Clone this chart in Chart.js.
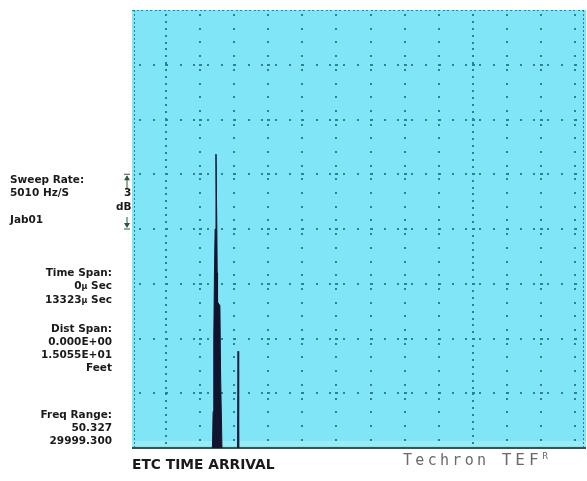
<!DOCTYPE html>
<html lang="en">
<head>
  <meta charset="UTF-8">
  <title>ETC Time Arrival</title>
  <script src="https://cdn.jsdelivr.net/npm/chart.js"></script>
  <style>
    body {
      margin: 0;
      background: white;
    }
    #wrap {
      position: relative;
      width: 587px;
      height: 481px;
      font-family: "DejaVu Sans", sans-serif;
      font-weight: 700;
      color: #1a1a1a;
    }
    #wrap canvas {
      position: absolute;
      left: 0;
      top: 0;
    }
    .lbl {
      position: absolute;
      font-size: 10.5px;
      line-height: 13px;
      white-space: nowrap;
    }
    .right {
      text-align: right;
      right: 475px;
    }
    #title {
      position: absolute;
      left: 132px;
      top: 456px;
      font-size: 13.8px;
    }
    #brand {
      position: absolute;
      left: 403px;
      top: 450px;
      font-family: "DejaVu Sans Mono", monospace;
      font-weight: 400;
      font-size: 15px;
      letter-spacing: 3.3px;
      color: #6a6a6a;
    }
    #brand .tef {
      font-size: 16px;
      letter-spacing: 4px;
    }
    #brand sup {
      font-size: 9px;
    }
  </style>
</head>
<body>
<div id="wrap">
  <canvas id="etcChart" width="587" height="481"></canvas>
  <div class="lbl" style="left:10px; top:173px">Sweep Rate:<br>5010 Hz/S</div>
  <div class="lbl" style="left:10px; top:213px">Jab01</div>
  <div class="lbl" style="left:124px; top:186px">3</div>
  <div class="lbl" style="left:116px; top:200px">dB</div>
  <div class="lbl right" style="top:266px">Time Span:<br>0<span style="font-size:8px">µ</span> Sec<br>13323<span style="font-size:8px">µ</span> Sec</div>
  <div class="lbl right" style="top:322px">Dist Span:<br>0.000E+00<br>1.5055E+01<br>Feet</div>
  <div class="lbl right" style="top:408px">Freq Range:<br>50.327<br>29999.300</div>
  <div id="title">ETC TIME ARRIVAL</div>
  <div id="brand">Techron <span class="tef">TEF</span><sup>R</sup></div>
</div>
<script>
  // Zeitachse in µs, Pegel in dB (relativ, 3 dB pro Teilung)
  const xMaxUs = 13323;
  const yMaxDb = 24;
  const xGridUs = [1000, 2000, 3000, 4000, 5000, 6000, 7000, 8000, 9000, 10000, 11000, 12000, 13000];
  const xGridDense = [1000, 10000];
  const yGridDb = [3, 6, 9, 12, 15, 18, 21];

  // direkter Schall
  const peak1Time = [2360, 2380, 2400, 2420, 2440, 2465, 2490, 2500, 2510, 2580, 2600, 2640];
  const peak1Level = [0, 2, 6, 9.6, 12, 16.1, 12, 9.6, 8, 7.8, 4, 0];
  // Reflexion
  const peak2Time = [3095, 3112, 3130];
  const peak2Level = [0, 5.3, 0];

  const toPoints = (xs, ys) => xs.map((x, i) => ({ x: x, y: ys[i] }));

  const dotGrid = {
    id: 'dotGrid',
    beforeDatasetsDraw(chart) {
      const { ctx, chartArea: a, scales: { x, y } } = chart;
      ctx.save();
      ctx.fillStyle = '#2f7f9c';
      // vertikale Linien
      xGridUs.forEach(v => {
        const px = Math.round(x.getPixelForValue(v));
        const step = xGridDense.includes(v) ? 6.9 : 13.7;
        for (let py = a.top + 4; py < a.bottom - 2; py += step) {
          ctx.fillRect(px - 1, Math.round(py), 2, 2);
        }
      });
      // horizontale Linien
      yGridDb.forEach(v => {
        const py = Math.round(y.getPixelForValue(v));
        for (let px = a.left + 7; px < a.right - 2; px += 13.6) {
          ctx.fillRect(Math.round(px), py - 1, 2, 2);
        }
        xGridUs.forEach(g => ctx.fillRect(Math.round(x.getPixelForValue(g)) - 1, py - 1, 3, 2));
      });
      // Rand oben und links
      for (let px = a.left; px < a.right; px += 4.5) {
        ctx.fillRect(Math.round(px), a.top, 2, 1);
      }
      for (let py = a.top; py < a.bottom; py += 4) {
        ctx.fillRect(a.left + 2, Math.round(py), 1, 2);
        ctx.fillRect(a.right - 3, Math.round(py), 1, 2);
      }
      // Grundlinie
      ctx.fillStyle = '#2e5a4e';
      ctx.fillRect(a.left, a.bottom - 1, a.right - a.left, 2);

      // 3 dB Markierung
      const mx = a.left - 5;
      const yTop = y.getPixelForValue(15);
      const yBot = y.getPixelForValue(12);
      ctx.strokeStyle = '#2c5a3c';
      ctx.fillStyle = '#2c5a3c';
      ctx.lineWidth = 1;
      ctx.beginPath();
      ctx.moveTo(mx - 3, yTop); ctx.lineTo(mx + 3, yTop);
      ctx.moveTo(mx, yTop + 2); ctx.lineTo(mx, yTop + 15);
      ctx.moveTo(mx - 3, yBot); ctx.lineTo(mx + 3, yBot);
      ctx.moveTo(mx, yBot - 2); ctx.lineTo(mx, yBot - 12);
      ctx.stroke();
      ctx.beginPath();
      ctx.moveTo(mx, yTop + 1); ctx.lineTo(mx - 3, yTop + 6); ctx.lineTo(mx + 3, yTop + 6);
      ctx.moveTo(mx, yBot - 1); ctx.lineTo(mx - 3, yBot - 6); ctx.lineTo(mx + 3, yBot - 6);
      ctx.fill();
      ctx.restore();
    }
  };

  const plotBg = {
    id: 'plotBg',
    beforeDraw(chart) {
      const { ctx, chartArea: a } = chart;
      ctx.save();
      ctx.fillStyle = '#80e6f7';
      ctx.fillRect(a.left, a.top, a.right - a.left, a.bottom - a.top);
      ctx.fillStyle = '#96ecf8';
      ctx.fillRect(a.left, a.bottom - 7, a.right - a.left, 5);
      ctx.restore();
    }
  };

  new Chart(document.getElementById('etcChart'), {
    type: 'line',
    data: {
      datasets: [{
        label: 'Direktschall',
        data: toPoints(peak1Time, peak1Level),
        borderColor: '#12142e',
        backgroundColor: '#12142e',
        borderWidth: 1,
        pointRadius: 0,
        tension: 0,
        fill: 'origin'
      }, {
        label: 'Reflexion',
        data: toPoints(peak2Time, peak2Level),
        borderColor: '#1a2040',
        backgroundColor: '#1a2040',
        borderWidth: 1,
        pointRadius: 0,
        tension: 0,
        fill: 'origin'
      }]
    },
    options: {
      responsive: false,
      animation: false,
      layout: { padding: { left: 132, right: 1, top: 10, bottom: 33 } },
      plugins: { legend: { display: false }, tooltip: { enabled: false } },
      scales: {
        x: { type: 'linear', min: 0, max: xMaxUs, display: false },
        y: { type: 'linear', min: 0, max: yMaxDb, display: false }
      }
    },
    plugins: [plotBg, dotGrid]
  });
</script>
</body>
</html>
